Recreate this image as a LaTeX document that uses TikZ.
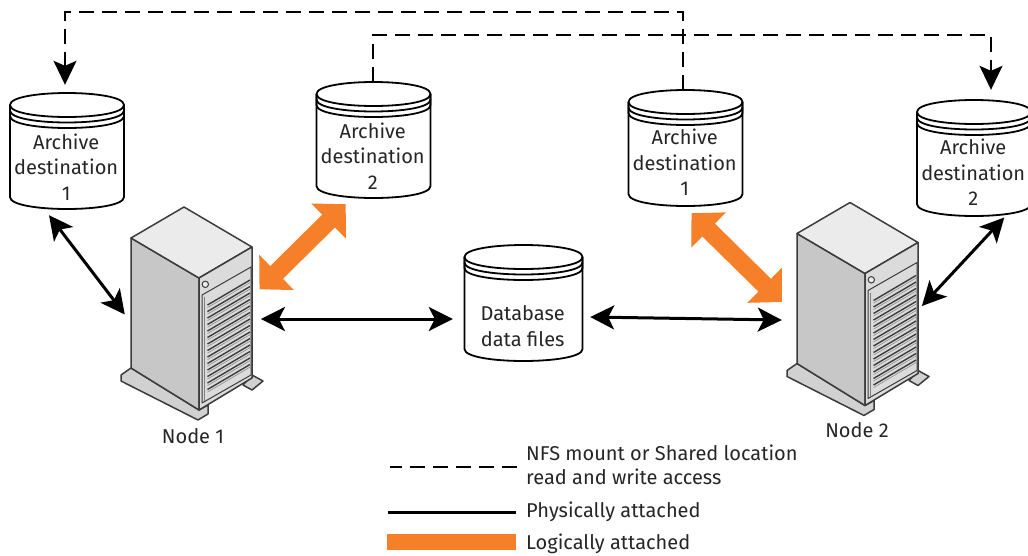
\documentclass[tikz,border=0pt]{standalone}
\usepackage{fontspec}
\setmainfont{Fira Sans}
\usetikzlibrary{arrows.meta}
\definecolor{logicorange}{HTML}{F58029}
\definecolor{caseedge}{HTML}{3C3C3C}
\tikzset{
  dashpart/.style={black,line width=1.6pt,dash pattern=on 15pt off 8pt},
  shared/.style={dashpart,-{Stealth[length=24pt,width=23pt,inset=5pt]}},
  physical/.style={black,line width=3pt,{Stealth[length=24pt,width=24pt,inset=6pt]}-{Stealth[length=24pt,width=24pt,inset=6pt]}},
  logical/.style={logicorange,line width=18pt,{Triangle[length=24pt,width=48pt]}-{Triangle[length=24pt,width=48pt]}},
  drumline/.style={black,line width=1.8pt,fill=white},
  drumbox/.style={minimum width=114pt,minimum height=116pt,inner sep=0pt},
  casebox/.style={minimum width=121pt,minimum height=203pt,inner sep=0pt},
  casefill/.style={draw=caseedge,line width=1.5pt,line join=round},
  txt/.style={font=\fontsize{20}{25.5}\selectfont,align=center,inner sep=0pt,text=black!85},
  legtxt/.style={txt,font=\fontsize{20}{24}\selectfont,align=left,anchor=west}
}
% name, left, top, label drop, label
\newcommand{\drum}[6][1]{
  \begin{scope}[shift={(#3,#4)},xscale=#1]
    \draw[drumline] (0,12)--(0,104) .. controls (0,120) and (114,120) .. (114,104)--(114,12)
      .. controls (114,-4) and (0,-4) .. (0,12)--cycle;
    \draw[drumline,fill=none] (0,12)--(0,23) .. controls (0,39) and (114,39) .. (114,23)--(114,12);
    \draw[drumline,fill=none] (0,17.5) .. controls (0,33.5) and (114,33.5) .. (114,17.5);
    \draw[drumline,fill=none] (0,12) .. controls (0,28) and (114,28) .. (114,12);
    \node[drumbox] (#2) at (57,58) {};
    \node[txt] (#2text) at (56.2,#5) {#6};
  \end{scope}
}
% name, x shift, y shift
\newcommand{\server}[3]{
  \begin{scope}[shift={(#2,#3)}]
    \draw[casefill,fill=black!18] (121,375)--(131,368)--(199,410)--(208,405)--(208,414)--(198,420)--(121,381)--cycle;
    \draw[casefill,fill=black!18] (243,385)--(252,375)--(263,381)--(252,390)--cycle;
    \draw[casefill,fill=black!22] (131,238)--(199,278)--(199,410)--(131,368)--cycle;
    \draw[casefill,fill=black!8] (184,207)--(252,247)--(199,278)--(131,238)--cycle;
    \draw[casefill,fill=black!14] (199,278)--(252,247)--(252,378)--(199,410)--cycle;
    \draw[casefill,fill=black!14,line width=1pt] (202,295)--(251,267)--(251,375)--(202,403)--cycle;
    \draw[black!50,line width=0.7pt] (204,297)--(204,401);
    \draw[caseedge,line width=1pt,fill=black!8] (205.3,284.3) circle (3.2);
    \foreach \i in {0,...,13}{
      \draw[caseedge,line width=1.4pt] (207.5,305+\i*6.5)--(250,280+\i*6.5);
      \draw[black!45,line width=0.6pt] (207.5,307.6+\i*6.5)--(250,282.6+\i*6.5);
    }
    \node[casebox] (#1) at (191.5,308.5) {};
  \end{scope}
}
\begin{document}
\begin{tikzpicture}[x=1pt,y=-1pt]
  \useasboundingbox (0,0) rectangle (1028,555);

  \drum{archiveA}{10}{93}{74}{Archive\\destination\\1}
  \drum{archiveB}{316.5}{82}{74}{Archive\\destination\\2}
  \drum{archiveC}{628.5}{90}{72.5}{Archive\\destination\\1}
  \drum{archiveD}{917}{100}{72.5}{Archive\\destination\\2}
  \drum[1.035]{database}{464.5}{245}{81}{Database\\data files}

  \server{nodeA}{0}{0}
  \server{nodeB}{666}{-4.5}
  \node[txt] (nodeAtext) at (193,436) {Node 1};
  \node[txt] (nodeBtext) at (857,430) {Node 2};

  % shared
  \draw[shared] ([xshift=-2.5pt]archiveC.north) -- ++(0,-78) -| ([shift={(-2,-8)}]archiveA.north);
  \draw[shared] ([xshift=-0.5pt]archiveB.north) -- ++(0,-47) -| ([shift={(17,-10)}]archiveD.north);

  % physical
  \draw[physical] ([shift={(-18,6)}]archiveA.south) -- ([shift={(-6,6)}]nodeA.west);
  \draw[physical] ([shift={(8.7,10.5)}]nodeA.east) -- ([shift={(-13.5,16)}]database.west);
  \draw[physical] ([shift={(9.5,14)}]database.east) -- ([shift={(-15,16)}]nodeB.west);
  \draw[physical] ([shift={(30.3,1.3)}]archiveD.south) -- ([shift={(3.7,2)}]nodeB.east);

  % logical
  \draw[logical] ([shift={(-27.8,6)}]archiveB.south) -- ([shift={(7.3,-19.2)}]nodeA.east);
  \draw[logical] ([shift={(6,7)}]archiveC.south) -- ([shift={(-15,-2)}]nodeB.west);

  % legend
  \node[legtxt] (legshared) at (526,465) {NFS mount or Shared location\\read and write access};
  \node[legtxt] (legphysical) at (526,512) {Physically attached};
  \node[legtxt] (leglogical) at (526,544) {Logically attached};
  \draw[dashpart] ([shift={(-9,2)}]legshared.west) -- ++(-127,0);
  \draw[black,line width=3pt] ([shift={(-10,0)}]legphysical.west) -- ++(-128,0);
  \draw[logicorange,line width=16pt] ([shift={(-10,-2)}]leglogical.west) -- ++(-129,0);
\end{tikzpicture}
\end{document}
